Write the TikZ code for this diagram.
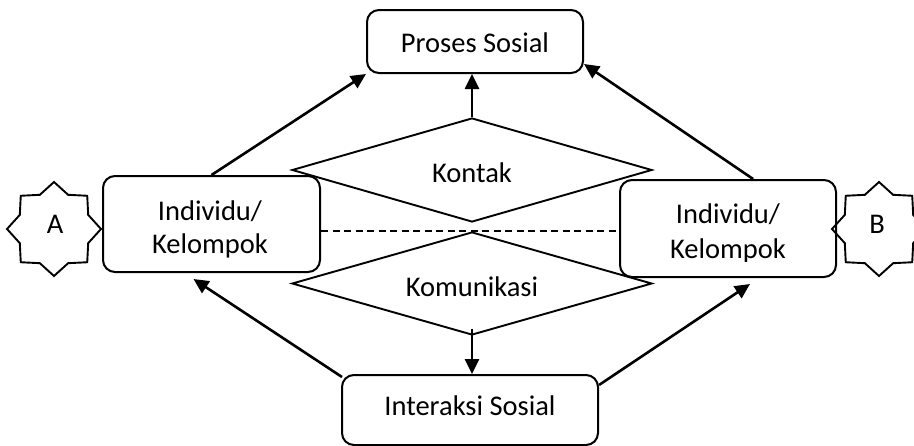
\documentclass[tikz,border=0pt]{standalone}
\usepackage{fontspec}
\setmainfont{Carlito}
\usetikzlibrary{shapes.geometric,arrows.meta,calc}
\begin{document}
\begin{tikzpicture}[x=1pt,y=-1pt,
  box/.style={draw,line width=2pt,rounded corners=12pt,inner sep=0pt},
  rhomb/.style={draw,diamond,line width=1.9pt,inner sep=0pt},
  badge/.style={inner sep=0pt,minimum size=0pt},
  starline/.style={line width=1.9pt,line join=miter},
  txt/.style={anchor=base,inner sep=0pt,font=\fontsize{28.5}{35}\selectfont},
  link/.style={line width=2.6pt,-{Triangle[length=15pt,width=14pt]}},
  dashline/.style={line width=2pt,dash pattern=on 7pt off 4.5pt},
]
\clip (0,0) rectangle (914,445);

% boxes
\node[box,minimum width=216pt,minimum height=63pt] (P) at (475,41.5) {};
\node[box,minimum width=217pt,minimum height=96pt] (L) at (211.5,224) {};
\node[box,minimum width=216pt,minimum height=97pt] (R) at (728,228.5) {};
\node[box,minimum width=256pt,minimum height=70pt] (I) at (470,410) {};

% diamonds
\node[rhomb,minimum width=360pt,minimum height=104pt] (K) at (472,170) {};
\node[rhomb,minimum width=360pt,minimum height=103pt] (M) at (472,283.5) {};

% eight-point stars
\node[badge] (A) at (54,229) {};
\node[badge] (B) at (879,229) {};
\foreach \c in {A,B}{
  \draw[starline] ($(\c)+(90:47)$)
    \foreach \k in {0,...,6}{
      -- ($(\c)+({112.5+45*\k}:37)$) -- ($(\c)+({135+45*\k}:47)$) }
    -- ($(\c)+(427.5:37)$) -- cycle;
}

% labels
\node[txt] at (475,52) {Proses Sosial};
\node[txt] at (472,182) {Kontak};
\node[txt] at (472,296) {Komunikasi};
\node[txt] at (470,415) {Interaksi Sosial};
\node[txt] at (55,233) {A};
\node[txt] at (877,233) {B};
\node[txt] at (210,220) {Individu/};
\node[txt] at (728,223) {Individu/};
\begin{scope}
  \clip (103,176) rectangle (320,257);
  \node[txt] at (210,253) {Kelompok};
\end{scope}
\begin{scope}
  \clip (620,180) rectangle (836,261);
  \node[txt] at (728,258) {Kelompok};
\end{scope}

% dashed link between the two groups
\draw[dashline] (L.east |- M.north) -- (R.west |- M.north);

% arrows
\draw[link] (L.north) -- (P.south west);
\draw[link] ($(R.north west)!0.615!(R.north east)$) -- ($(P.south east)+(0,-10)$);
\draw[link] (K.north) -- (K.north |- P.south);
\draw[link] ($(M.south)+(0,-7)$) -- (M.south |- I.north);
\draw[link] ($(I.north west)+(1,3)$) -- ($(L.south)+(-18,6)$);
\draw[link] ($(I.north east)+(0,11)$) -- ($(R.south)+(22,6)$);
\end{tikzpicture}
\end{document}
